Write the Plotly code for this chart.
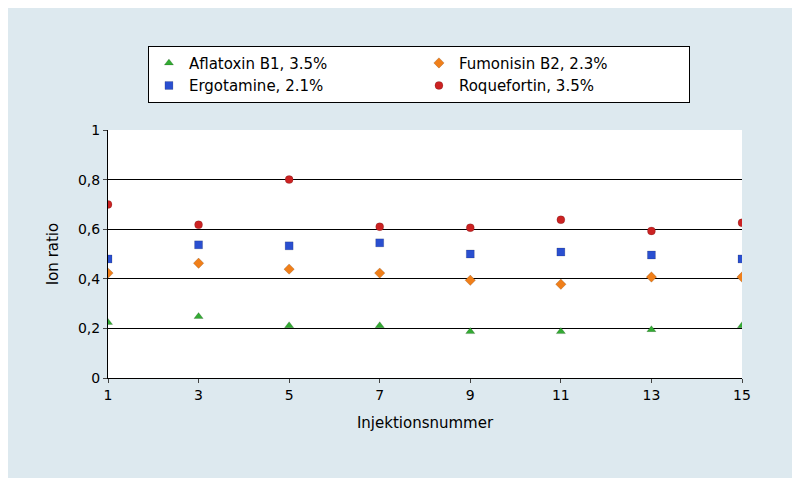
import plotly.graph_objects as go

x = [1, 3, 5, 7, 9, 11, 13, 15]
aflatoxin = [0.224, 0.248, 0.211, 0.211, 0.187, 0.187, 0.195, 0.211]
fumonisin = [0.423, 0.463, 0.439, 0.423, 0.394, 0.378, 0.407, 0.407]
ergotamine = [0.48, 0.537, 0.533, 0.545, 0.50, 0.508, 0.496, 0.48]
roquefortin = [0.70, 0.618, 0.80, 0.61, 0.606, 0.638, 0.593, 0.626]

fig = go.Figure()
def add(y, name, sym, col):
    fig.add_trace(go.Scatter(x=x, y=y, name=name, mode="markers",
        marker=dict(symbol=sym, color=col, size=8, line=dict(width=0.5, color="rgba(0,0,0,0.3)"))))
add(aflatoxin, "Aflatoxin B1, 3.5%", "triangle-up", "#33aa33")
add(fumonisin, "Fumonisin B2, 2.3%", "diamond", "#f07f1a")
add(ergotamine, "Ergotamine, 2.1%", "square", "#2a4fd0")
add(roquefortin, "Roquefortin, 3.5%", "circle", "#cc2222")

fig.update_layout(
    width=800, height=478, paper_bgcolor="#dde9ef", plot_bgcolor="white",
    margin=dict(l=100, r=66, t=122, b=108),
    font=dict(family="Verdana, DejaVu Sans", size=14, color="black"),
    legend=dict(orientation="h", x=0.063, y=1.34, xanchor="left", yanchor="top",
                bgcolor="white", bordercolor="black", borderwidth=1,
                entrywidth=225, font=dict(size=15), tracegroupgap=12),
    xaxis=dict(range=[1, 15], tickvals=[1, 3, 5, 7, 9, 11, 13, 15], showgrid=False,
               showline=True, linecolor="black", ticks="outside", ticklen=4,
               title=dict(text="Injektionsnummer", font=dict(size=15)), zeroline=False),
    yaxis=dict(range=[0, 1], tickvals=[0, 0.2, 0.4, 0.6, 0.8, 1],
               ticktext=["0", "0,2", "0,4", "0,6", "0,8", "1"],
               showgrid=True, gridcolor="black", gridwidth=1,
               showline=True, linecolor="black", ticks="outside", ticklen=4,
               title=dict(text="Ion ratio", font=dict(size=15)), zeroline=False),
)
fig.write_html("out.html")
